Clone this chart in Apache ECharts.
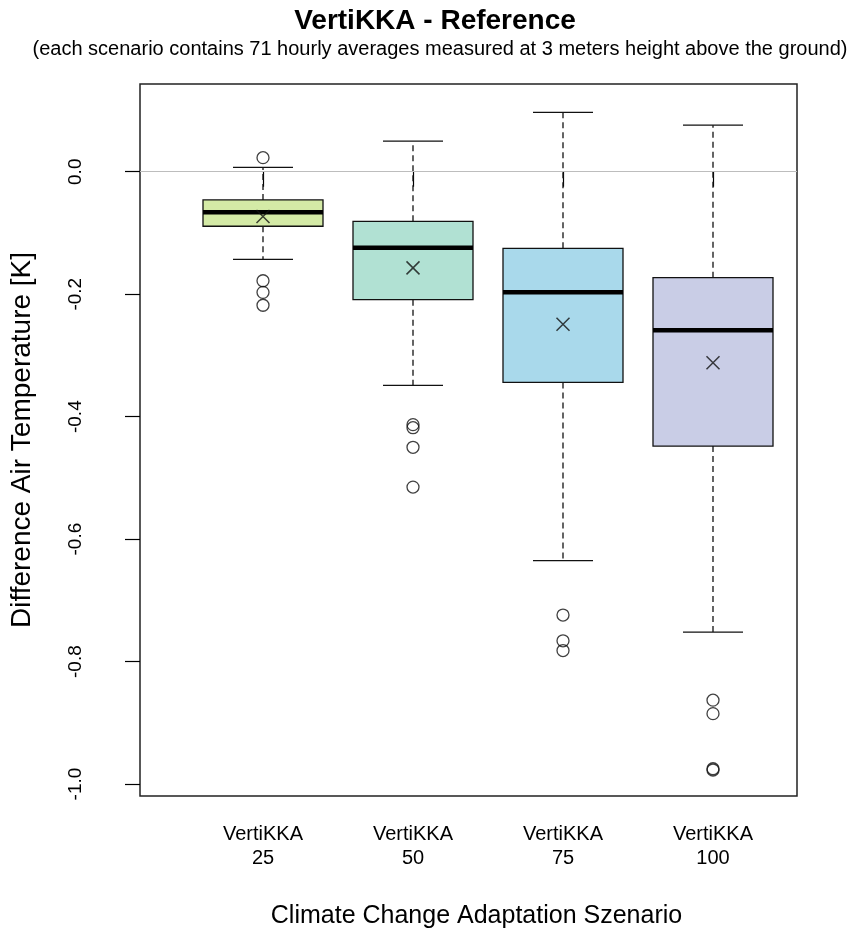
<!DOCTYPE html>
<html>
<head>
<meta charset="utf-8">
<script src="https://cdn.jsdelivr.net/npm/echarts@6/dist/echarts.min.js"></script>
<style>
html,body{margin:0;padding:0;background:#fff;}
#chart{width:852px;height:936px;}
</style>
</head>
<body>
<div id="chart"></div>
<script>
// ---- data ----
const categories = ['VertiKKA\n25', 'VertiKKA\n50', 'VertiKKA\n75', 'VertiKKA\n100'];
const positions = [1, 2, 3, 4];
const lowerWhisker = [-0.143, -0.349, -0.635, -0.752];
const q1 = [-0.089, -0.209, -0.344, -0.448];
const median = [-0.066, -0.124, -0.197, -0.259];
const q3 = [-0.046, -0.081, -0.125, -0.173];
const upperWhisker = [0.007, 0.050, 0.097, 0.076];
const means = [-0.073, -0.157, -0.249, -0.312];
const outliers = [
  [0.023, -0.178, -0.197, -0.218],
  [-0.413, -0.418, -0.450, -0.515],
  [-0.724, -0.766, -0.782],
  [-0.863, -0.885, -0.975, -0.977]
];
const yTicks = [-1.0, -0.8, -0.6, -0.4, -0.2, 0.0];
const boxColors = ['#d4eaa6', '#b1e1d3', '#a9d9eb', '#c9cde6'];

const FONT = 'Liberation Sans, Arial, sans-serif';

const boxData = positions.map((p, i) => [p, lowerWhisker[i], q1[i], median[i], q3[i], upperWhisker[i]]);
const outlierData = [];
outliers.forEach((arr, i) => arr.forEach(v => outlierData.push([positions[i], v])));
const meanData = positions.map((p, i) => [p, means[i]]);

const chart = echarts.init(document.getElementById('chart'), null, {renderer: 'canvas'});

const option = {
  backgroundColor: '#fff',
  animation: false,
  title: [
    {text: 'VertiKKA - Reference', left: 430, textAlign: 'center', top: 2,
     textStyle: {fontFamily: FONT, fontSize: 28, fontWeight: 'bold', color: '#000'}},
    {text: '(each scenario contains 71 hourly averages measured at 3 meters height above the ground)',
     left: 435, textAlign: 'center', top: 34,
     textStyle: {fontFamily: FONT, fontSize: 20, fontWeight: 'normal', color: '#000'}}
  ],
  grid: {left: 140, right: 55, top: 84, bottom: 140, show: true,
         borderColor: '#222', borderWidth: 1.5, backgroundColor: 'transparent'},
  xAxis: {
    type: 'value', min: 0.18, max: 4.56,
    name: 'Climate Change Adaptation Szenario', nameLocation: 'middle', nameGap: 108,
    nameTextStyle: {fontFamily: FONT, fontSize: 25, color: '#000', padding: [0, 0, 0, 16]},
    axisLine: {show: false},
    splitLine: {show: false},
    axisTick: {show: true, length: 15, customValues: positions, lineStyle: {color: '#000', width: 1.2}},
    axisLabel: {customValues: positions, margin: 26, fontFamily: FONT, fontSize: 20, color: '#000',
                lineHeight: 24, formatter: v => categories[Math.round(v) - 1] || ''}
  },
  yAxis: {
    type: 'value', min: -1.0195, max: 0.1433,
    name: 'Difference Air Temperature [K]', nameLocation: 'middle', nameGap: 104,
    nameTextStyle: {fontFamily: FONT, fontSize: 28, color: '#000'},
    axisLine: {show: false},
    splitLine: {show: false},
    axisTick: {show: true, length: 15, customValues: yTicks, lineStyle: {color: '#000', width: 1.2}},
    axisLabel: {customValues: yTicks, rotate: 90, margin: 55, fontFamily: FONT, fontSize: 19, color: '#000',
                formatter: v => (Math.abs(v) < 1e-9 ? 0 : v).toFixed(1)}
  },
  series: [
    {
      type: 'custom',
      data: boxData,
      encode: {x: 0, y: [1, 2, 3, 4, 5]},
      markLine: {
        silent: true, symbol: 'none', label: {show: false},
        lineStyle: {color: '#bdbdbd', width: 1.2, type: 'solid'},
        data: [{yAxis: 0}]
      },
      z: 2,
      renderItem: function (params, api) {
        const i = params.dataIndex;
        const x = api.value(0);
        const pLW = api.coord([x, api.value(1)]);
        const pQ1 = api.coord([x, api.value(2)]);
        const pMed = api.coord([x, api.value(3)]);
        const pQ3 = api.coord([x, api.value(4)]);
        const pUW = api.coord([x, api.value(5)]);
        const half = api.size([0.8, 0])[0] / 2;
        const cap = api.size([0.4, 0])[0] / 2;
        const cx = pMed[0];
        const dash = {stroke: '#111', lineWidth: 1.3, lineDash: [6, 4]};
        const solid = {stroke: '#111', lineWidth: 1.3};
        return {
          type: 'group',
          children: [
            {type: 'line', shape: {x1: cx, y1: pQ1[1], x2: cx, y2: pLW[1]}, style: dash},
            {type: 'line', shape: {x1: cx, y1: pQ3[1], x2: cx, y2: pUW[1]}, style: dash},
            {type: 'line', shape: {x1: cx - cap, y1: pLW[1], x2: cx + cap, y2: pLW[1]}, style: solid},
            {type: 'line', shape: {x1: cx - cap, y1: pUW[1], x2: cx + cap, y2: pUW[1]}, style: solid},
            {type: 'rect', shape: {x: cx - half, y: pQ3[1], width: 2 * half, height: pQ1[1] - pQ3[1]},
             style: {fill: boxColors[i], stroke: '#111', lineWidth: 1.3}},
            {type: 'line', shape: {x1: cx - half, y1: pMed[1], x2: cx + half, y2: pMed[1]},
             style: {stroke: '#000', lineWidth: 4.5}}
          ]
        };
      }
    },
    {
      type: 'scatter',
      data: outlierData,
      symbol: 'circle', symbolSize: 12,
      itemStyle: {color: 'rgba(0,0,0,0)', borderColor: '#111', borderWidth: 1.3},
      z: 3
    },
    {
      type: 'scatter',
      data: meanData,
      symbol: 'path://M0,0L10,10M10,0L0,10', symbolSize: 13,
      itemStyle: {color: 'none', borderColor: '#111', borderWidth: 1.5},
      z: 4
    }
  ]
};
chart.setOption(option);
</script>
</body>
</html>
